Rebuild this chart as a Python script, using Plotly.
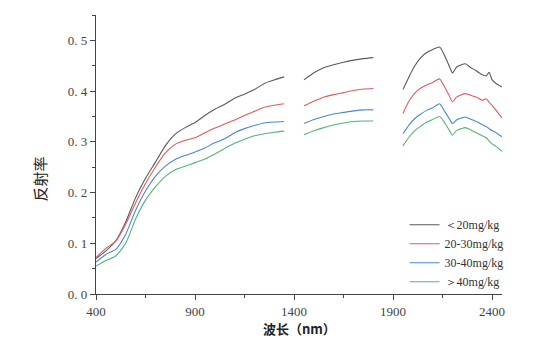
import plotly.graph_objects as go

# Wavelength samples (nm) for the three measured bands; None marks the
# water-absorption gaps where no reflectance is plotted.
wl_band1 = [400, 450, 500, 550, 600, 650, 700, 750, 800, 850, 900, 950,
            1000, 1050, 1100, 1150, 1200, 1250, 1300, 1350]
wl_band2 = [1450, 1500, 1550, 1600, 1650, 1700, 1750, 1800]
wl_band3 = [1950, 1980, 2010, 2040, 2070, 2100, 2135, 2160, 2185, 2200, 2220,
            2245, 2265, 2290, 2320, 2350, 2370, 2385, 2400, 2420, 2450]

# Reflectance for each concentration class, per band
r_lt20_b1 = [0.070, 0.085, 0.105, 0.142, 0.190, 0.228, 0.260, 0.292, 0.315, 0.328,
             0.338, 0.352, 0.364, 0.374, 0.386, 0.394, 0.403, 0.415, 0.422, 0.428]
r_lt20_b2 = [0.422, 0.436, 0.446, 0.452, 0.457, 0.461, 0.464, 0.466]
r_lt20_b3 = [0.403, 0.428, 0.450, 0.466, 0.476, 0.482, 0.487, 0.470, 0.448, 0.436, 0.447,
             0.452, 0.454, 0.447, 0.440, 0.432, 0.430, 0.437, 0.422, 0.415, 0.408]

r_20_30_b1 = [0.072, 0.090, 0.104, 0.138, 0.180, 0.218, 0.250, 0.278, 0.295, 0.303,
              0.308, 0.318, 0.327, 0.335, 0.343, 0.352, 0.360, 0.368, 0.372, 0.375]
r_20_30_b2 = [0.371, 0.380, 0.388, 0.393, 0.397, 0.401, 0.404, 0.405]
r_20_30_b3 = [0.356, 0.380, 0.396, 0.406, 0.412, 0.417, 0.424, 0.408, 0.390, 0.379, 0.388,
              0.393, 0.395, 0.392, 0.388, 0.382, 0.385, 0.378, 0.372, 0.362, 0.347]

r_30_40_b1 = [0.063, 0.078, 0.088, 0.118, 0.165, 0.203, 0.232, 0.252, 0.265, 0.273,
              0.280, 0.288, 0.298, 0.306, 0.318, 0.326, 0.332, 0.337, 0.339, 0.340]
r_30_40_b2 = [0.336, 0.344, 0.350, 0.355, 0.358, 0.361, 0.363, 0.363]
r_30_40_b3 = [0.316, 0.333, 0.346, 0.355, 0.362, 0.367, 0.375, 0.360, 0.345, 0.336, 0.343,
              0.347, 0.349, 0.345, 0.340, 0.334, 0.330, 0.326, 0.322, 0.318, 0.310]

r_gt40_b1 = [0.055, 0.066, 0.075, 0.100, 0.148, 0.185, 0.211, 0.232, 0.245, 0.252,
             0.259, 0.266, 0.276, 0.287, 0.297, 0.305, 0.312, 0.316, 0.319, 0.321]
r_gt40_b2 = [0.314, 0.322, 0.328, 0.333, 0.337, 0.340, 0.341, 0.341]
r_gt40_b3 = [0.292, 0.309, 0.322, 0.331, 0.339, 0.344, 0.350, 0.338, 0.322, 0.313, 0.322,
             0.326, 0.328, 0.324, 0.318, 0.312, 0.308, 0.302, 0.296, 0.291, 0.281]

series_names = ["＜20mg/kg", "20-30mg/kg", "30-40mg/kg", "＞40mg/kg"]
series_colors = ["#5a5a5a", "#e05a5a", "#4a88cc", "#55b37a"]
series_bands = [
    (r_lt20_b1, r_lt20_b2, r_lt20_b3),
    (r_20_30_b1, r_20_30_b2, r_20_30_b3),
    (r_30_40_b1, r_30_40_b2, r_30_40_b3),
    (r_gt40_b1, r_gt40_b2, r_gt40_b3),
]

x_all = wl_band1 + [None] + wl_band2 + [None] + wl_band3

fig = go.Figure()
for name, color, (b1, b2, b3) in zip(series_names, series_colors, series_bands):
    fig.add_trace(go.Scatter(
        x=x_all, y=b1 + [None] + b2 + [None] + b3,
        mode="lines", name=name, connectgaps=False,
        line=dict(color=color, width=1.1, shape="spline", smoothing=0.6),
    ))

axis_common = dict(
    showline=True, linecolor="#444", linewidth=1.4,
    ticks="outside", ticklen=5, tickcolor="#444", tickwidth=1.2,
    showgrid=False, zeroline=False,
)

fig.update_layout(
    width=558, height=342,
    margin=dict(l=96, r=56, t=15, b=48),
    paper_bgcolor="white", plot_bgcolor="white",
    font=dict(family="Liberation Serif", size=13, color="#444"),
    xaxis=dict(range=[400, 2450], tickvals=[400, 900, 1400, 1900, 2400],
               tickfont=dict(family="Liberation Serif", size=13, color="#444"),
               minor=dict(ticks="outside", ticklen=3, tickcolor="#444",
                          tickvals=[650, 1150, 1650, 2150]),
               **axis_common),
    yaxis=dict(range=[0, 0.55], tickvals=[0, 0.1, 0.2, 0.3, 0.4, 0.5],
               ticktext=["0. 0", "0. 1", "0. 2", "0. 3", "0. 4", "0. 5"],
               tickfont=dict(family="Liberation Serif", size=13, color="#444"),
               minor=dict(ticks="outside", ticklen=3, tickcolor="#444",
                          tickvals=[0.05, 0.15, 0.25, 0.35, 0.45, 0.55]),
               **axis_common),
    legend=dict(x=0.76, y=0.30, xanchor="left", yanchor="top",
                font=dict(family="Liberation Serif", size=12, color="#333"),
                bgcolor="rgba(0,0,0,0)", tracegroupgap=0, itemwidth=30),
    showlegend=True,
    annotations=[
        dict(text="<b>波长（nm）</b>", xref="paper", yref="paper", x=0.5, y=0,
             yshift=-34, xanchor="center", yanchor="middle", showarrow=False,
             font=dict(family="Noto Sans CJK SC", size=13, color="#222")),
        dict(text="反射率", xref="paper", yref="paper", x=0, y=0.41,
             xshift=-56, xanchor="center", yanchor="middle", showarrow=False,
             textangle=-90,
             font=dict(family="Noto Sans CJK SC", size=15, color="#222")),
    ],
)

fig.write_html("out.html")
